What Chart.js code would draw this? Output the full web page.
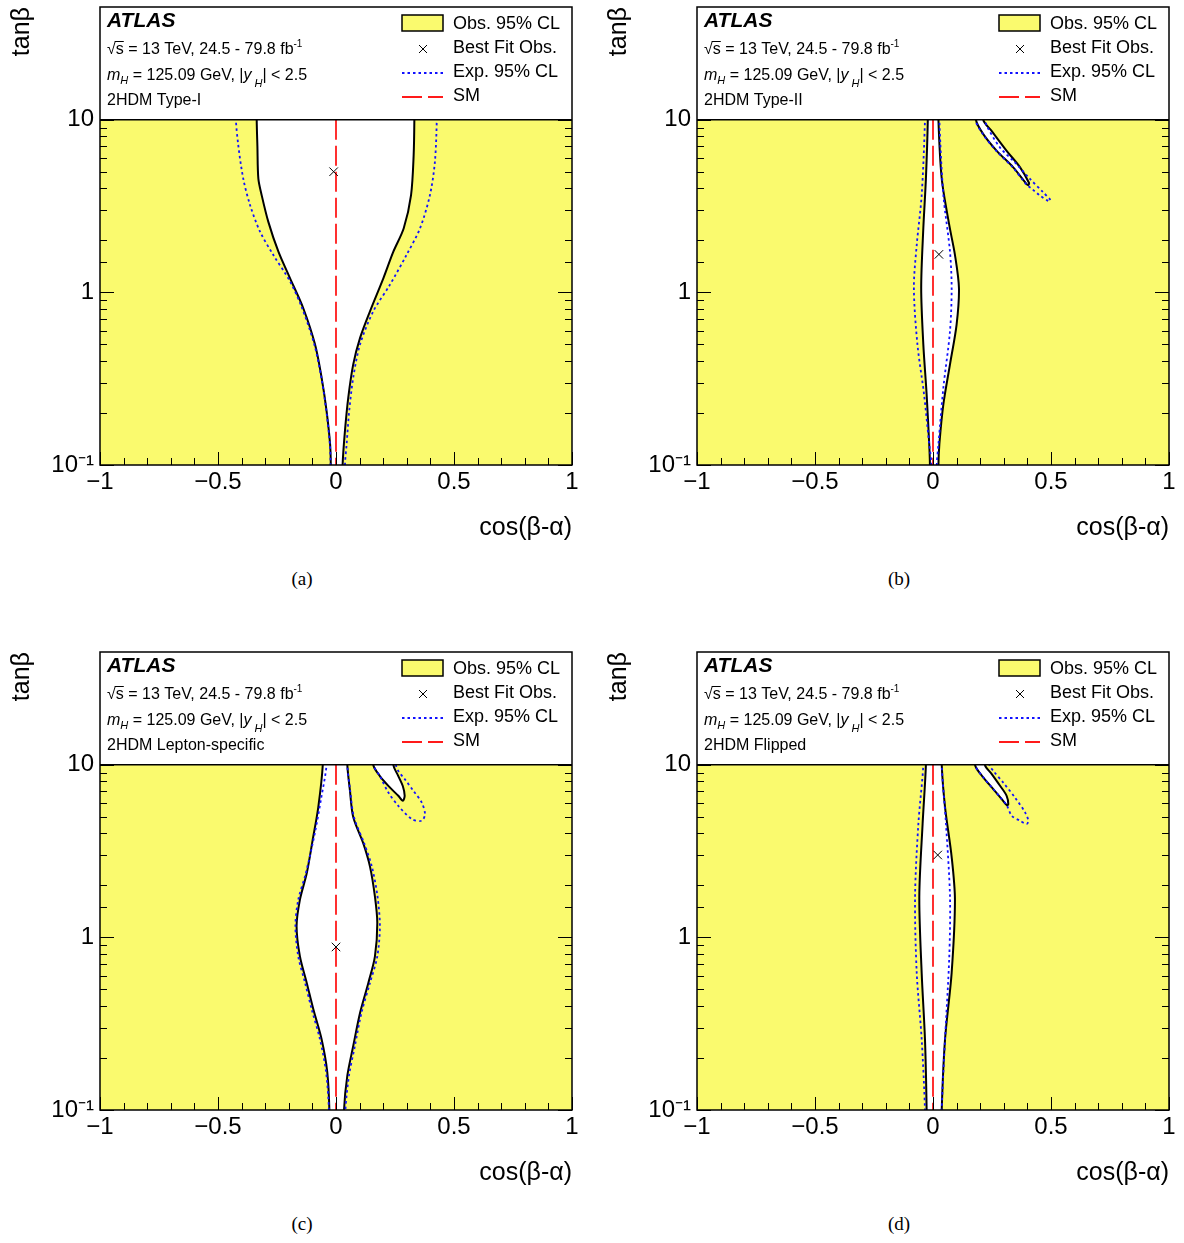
<!DOCTYPE html>
<html>
<head>
<meta charset="utf-8">
<title>2HDM constraints in the cos(β-α) – tanβ plane</title>
<script src="https://cdn.jsdelivr.net/npm/chart.js@4.4.0/dist/chart.umd.min.js"></script>
<style>
  html, body { margin: 0; padding: 0; background: #fff; }
  #page { position: relative; width: 1184px; height: 1243px; }
  canvas { position: absolute; }
  .cap { position: absolute; width: 100px; text-align: center; color: #000;
         font: 19px "Liberation Serif", "Times New Roman", serif; }
</style>
</head>
<body>
<div id="page">
  <canvas id="chartA" width="592" height="560" style="left:0;top:0"></canvas>
  <canvas id="chartB" width="592" height="560" style="left:597px;top:0"></canvas>
  <canvas id="chartC" width="592" height="560" style="left:0;top:645px"></canvas>
  <canvas id="chartD" width="592" height="560" style="left:597px;top:645px"></canvas>
  <div class="cap" style="left:252px;top:568px">(a)</div>
  <div class="cap" style="left:849px;top:568px">(b)</div>
  <div class="cap" style="left:252px;top:1213px">(c)</div>
  <div class="cap" style="left:849px;top:1213px">(d)</div>
</div>
<script>
/* ---------- axes ---------- */
const xRange = [-1, 1];
const yRange = [0.1, 10];      // filled part of the plane, legend box sits above 10
const yMax = 45;
const xTickValues = [-1, -0.5, 0, 0.5, 1];
const xTickText = ['\u22121', '\u22120.5', '0', '0.5', '1'];
const yTickValues = [0.1, 1, 10];
const yTickText = ['10\u207B\u00B9', '1', '10'];

/* ---------- panels ---------- */
const panelNames = ['2HDM Type-I', '2HDM Type-II', '2HDM Lepton-specific', '2HDM Flipped'];
const bestFitX = [-0.01, 0.025, 0.0, 0.02];
const bestFitY = [5.0, 1.66, 0.88, 3.0];

/* observed 95% CL contours, [cos(b-a), tan b], top to bottom */
const typeIObsLeft = [[-0.336, 10], [-0.333, 7], [-0.329, 4.56], [-0.315, 3.66], [-0.287, 2.57], [-0.244, 1.72],
  [-0.195, 1.21], [-0.139, 0.812], [-0.089, 0.5], [-0.061, 0.321], [-0.040, 0.206], [-0.025, 0.132], [-0.022, 0.1]];
const typeIObsRight = [[0.332, 10], [0.329, 6.22], [0.318, 3.66], [0.287, 2.35], [0.243, 1.72], [0.201, 1.21],
  [0.144, 0.777], [0.102, 0.545], [0.073, 0.383], [0.052, 0.246], [0.038, 0.158], [0.028, 0.1]];
const typeIExpLeft = [[-0.424, 10], [-0.414, 7.1], [-0.393, 4.56], [-0.364, 3.2], [-0.322, 2.25], [-0.266, 1.65],
  [-0.195, 1.16], [-0.145, 0.82], [-0.092, 0.5], [-0.062, 0.321], [-0.041, 0.206], [-0.026, 0.132], [-0.023, 0.1]];
const typeIExpRight = [[0.427, 10], [0.419, 5.69], [0.398, 3.66], [0.356, 2.35], [0.299, 1.65], [0.229, 1.11],
  [0.158, 0.777], [0.102, 0.5], [0.073, 0.321], [0.056, 0.206], [0.045, 0.132], [0.038, 0.1]];

const typeIIObsLeft = [[-0.022, 10], [-0.030, 4.56], [-0.041, 2.35], [-0.050, 1.06], [-0.041, 0.5], [-0.027, 0.257],
  [-0.016, 0.132], [-0.013, 0.1]];
const typeIIObsRight = [[0.023, 10], [0.037, 4.56], [0.069, 2.45], [0.093, 1.65], [0.110, 1.06], [0.100, 0.651],
  [0.072, 0.383], [0.044, 0.225], [0.027, 0.132], [0.023, 0.1]];
const typeIIObsArm = [[0.182, 10], [0.213, 8.26], [0.270, 6.61], [0.340, 5.30], [0.397, 4.24], [0.404, 4.19],
  [0.407, 4.30], [0.369, 5.30], [0.312, 6.61], [0.249, 8.6], [0.213, 10]];
const typeIIExpLeft = [[-0.034, 10], [-0.048, 3.66], [-0.069, 1.88], [-0.081, 1.06], [-0.066, 0.5], [-0.038, 0.257],
  [-0.016, 0.132], [-0.006, 0.1]];
const typeIIExpRight = [[0.027, 10], [0.044, 3.66], [0.072, 1.72], [0.079, 1.06], [0.072, 0.596], [0.044, 0.281],
  [0.023, 0.132], [0.016, 0.1]];
const typeIIExpArm = [[0.180, 10], [0.211, 8.26], [0.268, 6.61], [0.338, 5.30], [0.397, 4.20], [0.420, 3.97],
  [0.453, 3.64], [0.490, 3.38], [0.498, 3.42], [0.467, 3.80], [0.411, 4.54], [0.347, 5.66], [0.284, 6.9],
  [0.228, 9.2], [0.222, 10]];

const lepObsLeft = [[-0.056, 10], [-0.075, 5.69], [-0.099, 3.66], [-0.124, 2.35], [-0.153, 1.65], [-0.167, 1.16],
  [-0.153, 0.777], [-0.124, 0.545], [-0.096, 0.383], [-0.061, 0.257], [-0.037, 0.166], [-0.028, 0.1]];
const lepObsRight = [[0.048, 10], [0.059, 7.1], [0.073, 4.98], [0.116, 3.49], [0.144, 2.57], [0.165, 1.72],
  [0.175, 1.21], [0.165, 0.777], [0.137, 0.545], [0.102, 0.366], [0.073, 0.235], [0.048, 0.158], [0.034, 0.1]];
const lepObsArm = [[0.158, 10], [0.186, 8.6], [0.229, 7.37], [0.264, 6.61], [0.283, 6.18], [0.291, 6.61],
  [0.283, 7.53], [0.264, 8.6], [0.243, 10]];
const lepExpLeft = [[-0.040, 10], [-0.062, 6.5], [-0.090, 4.0], [-0.128, 2.35], [-0.160, 1.65], [-0.172, 1.16],
  [-0.160, 0.777], [-0.131, 0.545], [-0.103, 0.383], [-0.068, 0.257], [-0.042, 0.166], [-0.030, 0.1]];
const lepExpRight = [[0.048, 10], [0.060, 7.1], [0.076, 4.98], [0.120, 3.49], [0.152, 2.57], [0.176, 1.72],
  [0.186, 1.16], [0.175, 0.777], [0.144, 0.545], [0.108, 0.366], [0.080, 0.235], [0.055, 0.158], [0.040, 0.1]];
const lepExpArm = [[0.158, 10], [0.186, 8.6], [0.222, 6.9], [0.264, 5.78], [0.321, 4.85], [0.363, 4.74],
  [0.377, 5.18], [0.363, 6.05], [0.328, 7.06], [0.292, 8.23], [0.264, 9.2], [0.254, 10]];

const flipObsLeft = [[-0.030, 10], [-0.044, 4.55], [-0.058, 1.72], [-0.048, 0.623], [-0.034, 0.257], [-0.027, 0.1]];
const flipObsRight = [[0.037, 10], [0.051, 5.69], [0.079, 2.93], [0.093, 1.65], [0.079, 0.623], [0.051, 0.257],
  [0.037, 0.1]];
const flipObsArm = [[0.178, 10], [0.213, 8.45], [0.256, 7.21], [0.291, 6.33], [0.312, 5.84], [0.319, 5.9],
  [0.312, 6.61], [0.284, 7.56], [0.249, 8.83], [0.220, 10]];
const flipExpLeft = [[-0.041, 10], [-0.062, 4.55], [-0.076, 1.72], [-0.069, 0.623], [-0.048, 0.257], [-0.034, 0.1]];
const flipExpRight = [[0.037, 10], [0.055, 4.55], [0.072, 1.72], [0.069, 0.777], [0.051, 0.257], [0.037, 0.1]];
const flipExpArm = [[0.178, 10], [0.213, 8.45], [0.256, 7.21], [0.291, 6.33], [0.312, 5.84], [0.334, 5.06],
  [0.369, 4.74], [0.397, 4.54], [0.404, 4.74], [0.390, 5.30], [0.347, 6.47], [0.298, 7.87], [0.256, 9.2],
  [0.239, 10]];

/* ---------- style ---------- */
const SANS = '"Liberation Sans", Arial, Helvetica, sans-serif';
const YELLOW = '#fafa6e';
const BLUE = '#1010ff';
const RED = '#ff1a1a';

Chart.defaults.font.family = SANS;
Chart.defaults.color = '#000';

function pts(list) { return list.map(p => ({x: p[0], y: p[1]})); }
// carry a contour straight on past the edges of the plane so the curve
// has no corner inside the visible part (outside bits are hidden / clipped)
function extend(list) {
    const first = list[0], last = list[list.length - 1];
    const out = list.slice();
    if (first[1] >= yRange[1]) out.unshift([first[0], yRange[1] * 1.6]);
    if (last[1] <= yRange[0]) out.push([last[0], yRange[0] / 1.6]);
    if (last[1] >= yRange[1]) out.push([last[0], yRange[1] * 1.6]);
    return out;
}
function region(left, right) {
    const ring = extend(left).concat(extend(right).reverse());
    ring.push(ring[0]);
    return pts(ring);
}
function ring(list) {
    const r = extend(list);
    r.push(r[0]);
    return pts(r);
}

// draws pieces of text one after the other on a baseline
function run(ctx, x, y, parts) {
    parts.forEach(p => {
        ctx.font = p.f;
        ctx.fillText(p.t, x, y + (p.dy || 0));
        const w = ctx.measureText(p.t).width;
        if (p.over) ctx.fillRect(x - 1, y - 13, w + 1, 1);
        x += w + (p.gap || 0);
    });
    return x;
}

/*----------- frame, inner ticks and legend box ------------ */
const atlasFrame = {
    id: 'atlasFrame',
    afterDatasetsDraw(chart, args, opts) {
        const ctx = chart.ctx;
        const a = chart.chartArea;
        const xs = chart.scales.x, ys = chart.scales.y;
        const y10 = ys.getPixelForValue(yRange[1]);
        ctx.save();
        ctx.strokeStyle = '#000';
        ctx.lineWidth = 1;
        ctx.beginPath();
        xs.ticks.forEach(t => {
            const px = Math.round(xs.getPixelForValue(t.value)) + 0.5;
            const len = t.label ? 13 : 7;
            ctx.moveTo(px, a.bottom);
            ctx.lineTo(px, a.bottom - len);
        });
        ys.ticks.forEach(t => {
            if (t.value > yRange[1] * 1.001) return;
            const py = Math.round(ys.getPixelForValue(t.value)) + 0.5;
            const len = t.label ? 14 : 7;
            ctx.moveTo(a.left, py); ctx.lineTo(a.left + len, py);
            ctx.moveTo(a.right, py); ctx.lineTo(a.right - len, py);
        });
        ctx.stroke();

        // legend box
        ctx.fillStyle = '#fff';
        ctx.fillRect(a.left, a.top, a.right - a.left, y10 - a.top);
        ctx.lineWidth = 1.5;
        ctx.strokeRect(a.left, a.top, a.right - a.left, a.bottom - a.top);
        ctx.beginPath();
        ctx.moveTo(a.left, y10); ctx.lineTo(a.right, y10);
        ctx.stroke();

        const L = a.left, T = a.top;
        ctx.fillStyle = '#000';
        ctx.textAlign = 'left';
        ctx.textBaseline = 'alphabetic';
        const f16 = '16px ' + SANS, f16i = 'italic 16px ' + SANS, f11i = 'italic 11px ' + SANS;
        run(ctx, L + 7, T + 20, [{t: 'ATLAS', f: 'italic bold 21px ' + SANS}]);
        run(ctx, L + 7, T + 47, [{t: '\u221A', f: f16}, {t: 's', f: f16, over: true},
            {t: ' = 13 TeV, 24.5 - 79.8 fb', f: f16}, {t: '-1', f: '10px ' + SANS, dy: -7}]);
        run(ctx, L + 7, T + 73, [{t: 'm', f: f16i}, {t: 'H', f: f11i, dy: 4},
            {t: ' = 125.09 GeV, |', f: f16}, {t: 'y', f: f16i, gap: 3}, {t: 'H', f: f11i, dy: 7},
            {t: '| < 2.5', f: f16}]);
        run(ctx, L + 7, T + 98, [{t: opts.name, f: f16}]);

        // legend entries
        const bx = L + 302, bw = 41, tx = L + 353;
        ctx.fillStyle = YELLOW;
        ctx.fillRect(bx, T + 8, bw, 16);
        ctx.lineWidth = 1.5;
        ctx.strokeStyle = '#000';
        ctx.strokeRect(bx, T + 8, bw, 16);
        ctx.lineWidth = 1;
        ctx.beginPath();
        ctx.moveTo(bx + 17, T + 38); ctx.lineTo(bx + 25, T + 46);
        ctx.moveTo(bx + 25, T + 38); ctx.lineTo(bx + 17, T + 46);
        ctx.stroke();
        ctx.lineWidth = 1.8;
        ctx.setLineDash([2.5, 3]);
        ctx.strokeStyle = BLUE;
        ctx.beginPath(); ctx.moveTo(bx, T + 66); ctx.lineTo(bx + bw, T + 66); ctx.stroke();
        ctx.setLineDash([20, 6]);
        ctx.strokeStyle = RED;
        ctx.beginPath(); ctx.moveTo(bx, T + 90); ctx.lineTo(bx + bw, T + 90); ctx.stroke();
        ctx.setLineDash([]);
        ctx.fillStyle = '#000';
        const f18 = '18px ' + SANS;
        run(ctx, tx, T + 22, [{t: 'Obs. 95% CL', f: f18}]);
        run(ctx, tx, T + 46, [{t: 'Best Fit Obs.', f: f18}]);
        run(ctx, tx, T + 70, [{t: 'Exp. 95% CL', f: f18}]);
        run(ctx, tx, T + 94, [{t: 'SM', f: f18}]);
        ctx.restore();
    }
};

function buildDatasets(obs, exp, i) {
    const ds = [{
        label: 'Obs. 95% CL',
        data: pts([[xRange[0], yRange[0]], [xRange[1], yRange[0]], [xRange[1], yRange[1]],
            [xRange[0], yRange[1]], [xRange[0], yRange[0]]]),
        showLine: true, fill: 'shape', backgroundColor: YELLOW,
        borderColor: 'rgba(0,0,0,0)', borderWidth: 0, pointRadius: 0, order: 10
    }];
    obs.forEach(r => ds.push({
        label: 'allowed', data: r, showLine: true, fill: 'shape', backgroundColor: '#fff',
        borderColor: '#000', borderWidth: 2, pointRadius: 0, tension: 0.3, order: 5
    }));
    exp.forEach(l => ds.push({
        label: 'Exp. 95% CL', data: pts(extend(l)), showLine: true, fill: false, borderColor: BLUE,
        borderWidth: 1.8, borderDash: [2.5, 3], pointRadius: 0, tension: 0.3, order: 3
    }));
    ds.push({
        label: 'SM', data: pts([[0, yRange[1]], [0, yRange[0]]]), showLine: true, fill: false,
        borderColor: RED, borderWidth: 1.8, borderDash: [20, 6], pointRadius: 0, order: 2
    });
    ds.push({
        label: 'Best Fit Obs.', data: [{x: bestFitX[i], y: bestFitY[i]}], showLine: false,
        pointStyle: 'crossRot', pointRadius: 6, borderColor: '#000', borderWidth: 1, order: 1
    });
    return ds;
}

function makePanel(id, i, obs, exp) {
    return new Chart(document.getElementById(id), {
        type: 'scatter',
        data: {datasets: buildDatasets(obs, exp, i)},
        plugins: [atlasFrame],
        options: {
            responsive: false,
            animation: false,
            devicePixelRatio: 1,
            events: [],
            layout: {padding: {top: 4, right: 20, left: 0, bottom: 0}},
            plugins: {
                legend: {display: false},
                tooltip: {enabled: false},
                atlasFrame: {name: panelNames[i]}
            },
            scales: {
                x: {
                    type: 'linear', min: xRange[0], max: xRange[1],
                    grid: {display: false, drawTicks: false}, border: {display: false},
                    ticks: {
                        stepSize: 0.1, autoSkip: false, maxRotation: 0, padding: 3,
                        font: {size: 24},
                        callback: v => {
                            const k = xTickValues.findIndex(t => Math.abs(t - v) < 1e-6);
                            return k < 0 ? '' : xTickText[k];
                        }
                    },
                    title: {display: true, text: 'cos(\u03B2-\u03B1)', align: 'end',
                        font: {size: 25}, padding: {top: 0, bottom: 17}},
                    afterFit: s => { s.height = 95; s.paddingLeft = 0; s.paddingRight = 0; }
                },
                y: {
                    type: 'logarithmic', min: yRange[0], max: yMax,
                    grid: {display: false, drawTicks: false}, border: {display: false},
                    ticks: {
                        autoSkip: false, padding: 6, font: {size: 24},
                        callback: v => {
                            const k = yTickValues.findIndex(t => Math.abs(t - v) < 1e-6 * t);
                            return k < 0 ? '' : yTickText[k];
                        }
                    },
                    title: {display: true, text: 'tan\u03B2', align: 'end',
                        font: {size: 25}, padding: {top: 7, bottom: 0}},
                    afterFit: s => { s.width = 100; s.paddingTop = 0; s.paddingBottom = 0; }
                }
            }
        }
    });
}

makePanel('chartA', 0, [region(typeIObsLeft, typeIObsRight)], [typeIExpLeft, typeIExpRight]);
makePanel('chartB', 1, [region(typeIIObsLeft, typeIIObsRight), ring(typeIIObsArm)],
    [typeIIExpLeft, typeIIExpRight, typeIIExpArm]);
makePanel('chartC', 2, [region(lepObsLeft, lepObsRight), ring(lepObsArm)],
    [lepExpLeft, lepExpRight, lepExpArm]);
makePanel('chartD', 3, [region(flipObsLeft, flipObsRight), ring(flipObsArm)],
    [flipExpLeft, flipExpRight, flipExpArm]);
</script>
</body>
</html>
